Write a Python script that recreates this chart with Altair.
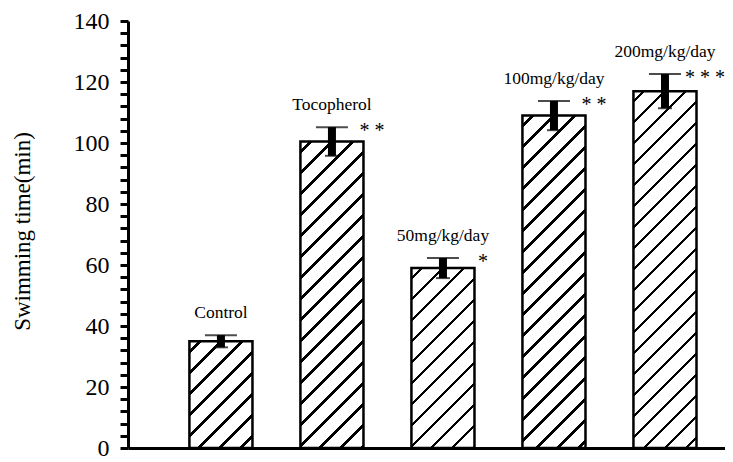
import altair as alt
import pandas as pd

categories = ["Control", "Tocopherol", "50mg/kg/day", "100mg/kg/day", "200mg/kg/day"]
values = [35, 100.5, 59, 109, 117]
errors = [2, 4.7, 3.3, 4.8, 5.6]
stars = ["", "* *", "*", "* *", "* * *"]
y_ticks = list(range(0, 141, 4))

W_PLOT, H_PLOT = 597, 427
Y_MAX = 140
P_IN, P_OUT, ALIGN = 0.432, 0.405, 0.683
STEP = W_PLOT / (len(categories) - P_IN + 2 * P_OUT)
BAND = STEP * (1 - P_IN)
SERIF = "Liberation Serif"

df = pd.DataFrame({
    "cat": categories,
    "value": values,
    "err": errors,
    "star": stars,
})
df["lo"] = df["value"] - df["err"]
df["hi"] = df["value"] + df["err"]

x_enc = alt.X("cat:N", sort=categories,
              scale=alt.Scale(paddingInner=P_IN, paddingOuter=P_OUT, align=ALIGN),
              axis=alt.Axis(labels=False, ticks=False, title=None,
                            domainColor="black", domainWidth=3))
y_scale = alt.Scale(domain=[0, Y_MAX], nice=False, zero=True)
y_axis = alt.Axis(values=y_ticks, labelExpr="datum.value % 20 == 0 ? datum.label : ''",
                  labelOverlap=False, grid=False, tickSize=8, tickWidth=3,
                  tickColor="black", domainColor="black", domainWidth=3,
                  labelFont=SERIF, labelFontSize=24, labelColor="black",
                  labelPadding=11, labelFlush=False,
                  title="Swimming time(min)", titleFont=SERIF, titleFontSize=23,
                  titleFontWeight="normal", titleColor="black",
                  titleX=-106, titleY=210, titleAlign="center", titleBaseline="middle")


def yq(field):
    return alt.Y(field, type="quantitative", scale=y_scale, axis=y_axis)


def hatch(height_px, width_px, period=21.0, lw=3.8):
    D = width_px + height_px
    t = D * width_px / (width_px ** 2 + height_px ** 2)
    stops = [{"offset": 0, "color": "white"}]
    s = period / 2
    while s - lw / 2 < D:
        a = max(0.0, (s - lw / 2) / D)
        b = min(1.0, (s + lw / 2) / D)
        stops += [{"offset": a, "color": "white"}, {"offset": a, "color": "black"},
                  {"offset": b, "color": "black"}, {"offset": b, "color": "white"}]
        s += period
    stops.append({"offset": 1, "color": "white"})
    return alt.LinearGradient(gradient="linear", stops=stops,
                              x1=0, y1=0, x2=t, y2=t * height_px / width_px)


base = alt.Chart(df)
layers = []
for c, v in zip(categories, values):
    h = v / Y_MAX * H_PLOT
    layers.append(
        base.transform_filter(alt.datum.cat == c)
        .mark_bar(fill=hatch(h, BAND), stroke="black", strokeWidth=2.5)
        .encode(x=x_enc, y=yq("value"))
    )

stem = base.mark_rule(color="black", strokeWidth=8).encode(
    x=x_enc, y=yq("lo"), y2="hi:Q")
cap_top = base.mark_tick(color="black", size=32, thickness=2).encode(
    x=x_enc, y=yq("hi"))
cap_bot = base.mark_tick(color="black", size=14, thickness=2).encode(
    x=x_enc, y=yq("lo"))
labels = base.mark_text(font=SERIF, fontSize=17.5, color="black", baseline="alphabetic",
                        dy=-17).encode(
    x=x_enc, y=yq("hi"), text="cat:N")
star_text = base.mark_text(font=SERIF, fontSize=20, color="black", baseline="middle",
                           dx=40, dy=4).encode(
    x=x_enc, y=yq("hi"), text="star:N")

chart = alt.layer(*layers, stem, cap_top, cap_bot, labels, star_text).properties(
    width=W_PLOT, height=H_PLOT,
    autosize=alt.AutoSizeParams(type="none"),
    padding={"left": 120, "top": 13, "right": 0, "bottom": 12},
    background="white",
).configure_view(stroke=None)

chart.save("out.html", embed_options={"renderer": "svg", "actions": False})
